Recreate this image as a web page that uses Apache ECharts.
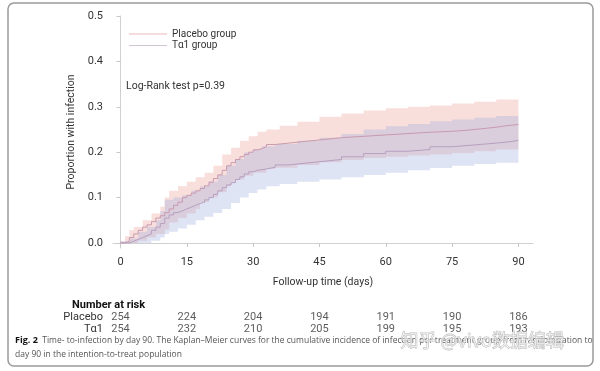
<!DOCTYPE html>
<html><head><meta charset="utf-8">
<script src="https://cdn.jsdelivr.net/npm/echarts@6/dist/echarts.min.js"></script>
<style>html,body{margin:0;padding:0;background:#fff}#c{width:600px;height:371px}</style>
</head><body><div id="c"></div>
<script>
// ---- data ----
const xTicks = [0, 15, 30, 45, 60, 75, 90];
const yTicks = [0, 0.1, 0.2, 0.3, 0.4, 0.5];

const placeboDays = [0,1,2,3,4,5,6,7,8,9,10,11,12,13,14,15,16,17,18,19,20,21,22,23,24,25,26,27,28,29,30,31,32,33,35,38,42,46,50,55,60,65,70,75,78,82,85,87,90];
const placeboVals = [0,0.004,0.012,0.02,0.028,0.035,0.04,0.047,0.055,0.06,0.067,0.075,0.083,0.09,0.1,0.105,0.11,0.115,0.12,0.126,0.134,0.142,0.15,0.16,0.17,0.177,0.184,0.19,0.195,0.2,0.205,0.208,0.212,0.217,0.22,0.224,0.228,0.232,0.235,0.238,0.241,0.244,0.246,0.248,0.252,0.255,0.258,0.261,0.261];

const ta1Days = [0,2,3,4,5,6,7,8,9,10,11,12,13,14,15,16,17,18,19,20,21,22,23,24,25,26,27,28,29,30,31,33,35,38,42,46,50,55,60,65,70,75,80,85,88,90];
const ta1Vals = [0,0.004,0.008,0.012,0.016,0.02,0.028,0.035,0.043,0.055,0.062,0.067,0.071,0.075,0.079,0.083,0.087,0.09,0.095,0.1,0.107,0.115,0.122,0.128,0.133,0.14,0.146,0.152,0.157,0.16,0.163,0.167,0.172,0.176,0.18,0.184,0.19,0.197,0.202,0.206,0.212,0.216,0.22,0.223,0.226,0.226];

const placeboUpDays = [0,1,2,3,5,7,9,10,11,13,15,17,19,21,23,25,27,29,31,33,36,40,45,50,55,60,65,70,75,80,85,90];
const placeboUpVals = [0.004,0.015,0.028,0.035,0.05,0.065,0.08,0.1,0.115,0.125,0.135,0.145,0.155,0.17,0.195,0.21,0.225,0.235,0.245,0.25,0.258,0.267,0.278,0.285,0.292,0.297,0.3,0.303,0.307,0.311,0.316,0.319];
const placeboLoDays = [0,4,6,8,10,11,13,15,17,18,20,22,24,25,26,28,30,33,35,40,45,50,55,60,65,70,75,80,85,90];
const placeboLoVals = [0,0.005,0.012,0.02,0.03,0.045,0.055,0.065,0.075,0.09,0.1,0.112,0.125,0.135,0.14,0.148,0.155,0.163,0.166,0.172,0.178,0.183,0.187,0.19,0.193,0.195,0.198,0.202,0.206,0.21];

const ta1UpDays = [0,2,4,6,8,9,10,12,14,16,18,20,22,24,26,28,30,32,35,40,45,50,55,60,65,70,75,80,85,90];
const ta1UpVals = [0.004,0.01,0.025,0.035,0.05,0.07,0.095,0.1,0.105,0.115,0.125,0.135,0.15,0.17,0.185,0.2,0.207,0.213,0.218,0.225,0.232,0.24,0.25,0.257,0.262,0.268,0.272,0.276,0.28,0.283];
const ta1LoDays = [0,7,9,10,11,13,15,17,19,21,23,25,27,29,31,33,36,40,45,50,55,60,65,70,75,80,85,90];
const ta1LoVals = [0,0.005,0.012,0.02,0.025,0.032,0.04,0.05,0.058,0.066,0.075,0.088,0.1,0.11,0.118,0.125,0.13,0.135,0.14,0.145,0.15,0.155,0.16,0.165,0.17,0.174,0.177,0.18];

const riskDays = [0, 15, 30, 45, 60, 75, 90];
const riskGroups = ['Tα1', 'Placebo'];
const placeboRisk = [254, 224, 204, 194, 191, 190, 186];
const ta1Risk = [254, 232, 210, 205, 199, 195, 193];

// ---- helpers ----
function stepPoints(days, vals, endDay) {
  const pts = [];
  for (let i = 0; i < days.length; i++) {
    const next = i < days.length - 1 ? days[i + 1] : endDay;
    pts.push([days[i], vals[i]]);
    pts.push([next, vals[i]]);
  }
  return pts;
}
function bandSeries(name, upD, upV, loD, loV, color) {
  const up = stepPoints(upD, upV, 90);
  const lo = stepPoints(loD, loV, 90).reverse();
  const all = up.concat(lo);
  return {
    type: 'custom', name: name, silent: true, clip: true,
    data: [[0, 0]],
    renderItem: function (params, api) {
      if (params.dataIndex !== 0) return null;
      return { type: 'polygon', shape: { points: all.map(p => api.coord(p)) },
               style: { fill: color } };
    },
    z: 1
  };
}
const FONT = 'Roboto';
const chart = echarts.init(document.getElementById('c'), null, { renderer: 'canvas' });
chart.setOption({
  animation: false,
  backgroundColor: '#fff',
  textStyle: { fontFamily: FONT },
  title: [
    { text: 'Log-Rank test p=0.39', left: 121, top: 76,
      textStyle: { fontSize: 10.5, fontWeight: 'normal', color: '#333', fontFamily: FONT } },
    { text: 'Number at risk', left: 67, top: 295,
      textStyle: { fontSize: 11, fontWeight: 'bold', color: '#111', fontFamily: FONT } }
  ],
  legend: {
    orient: 'vertical', left: 124, top: 24, itemWidth: 38, itemHeight: 1, itemGap: 1.5,
    icon: 'rect', textStyle: { fontSize: 10, color: '#333', lineHeight: 10, fontFamily: FONT },
    data: [{ name: 'Placebo group', itemStyle: { color: '#e9b9bb' } },
           { name: 'Tα1 group', itemStyle: { color: '#cfc3d4' } }]
  },
  grid: [
    { left: 113, right: 67, top: 16, bottom: 123 },
    { left: 113, right: 67, top: 311, bottom: 36 }
  ],
  xAxis: [
    { type: 'value', gridIndex: 0, min: -1.7, max: 93.3,
      name: 'Follow-up time (days)', nameLocation: 'middle', nameGap: 29,
      nameTextStyle: { fontSize: 10.5, color: '#333', fontFamily: FONT },
      axisLine: { lineStyle: { color: '#d0d0d0' } },
      axisTick: { customValues: xTicks, length: 4, lineStyle: { color: '#c8c8c8' } },
      axisLabel: { customValues: xTicks, fontSize: 11, color: '#333', margin: 9 },
      splitLine: { show: false } },
    { type: 'value', gridIndex: 1, min: -1.7, max: 93.3, show: false }
  ],
  yAxis: [
    { type: 'value', gridIndex: 0, min: -0.011, max: 0.5,
      name: 'Proportion with infection', nameLocation: 'middle', nameGap: 26,
      nameTextStyle: { fontSize: 10.5, color: '#333', fontFamily: FONT },
      axisLine: { show: true, lineStyle: { color: '#d0d0d0' } },
      axisTick: { show: true, customValues: yTicks, length: 4, lineStyle: { color: '#c8c8c8' } },
      axisLabel: { customValues: yTicks, fontSize: 11, color: '#333', margin: 10,
                   formatter: v => v.toFixed(1) },
      splitLine: { show: false } },
    { type: 'category', gridIndex: 1, data: riskGroups,
      axisLine: { show: false }, axisTick: { show: false },
      axisLabel: { interval: 0, hideOverlap: false, fontSize: 11, color: '#333', margin: 10 } }
  ],
  series: [
    bandSeries('Placebo CI', placeboUpDays, placeboUpVals, placeboLoDays, placeboLoVals, 'rgba(232,150,140,0.3)'),
    bandSeries('Tα1 CI', ta1UpDays, ta1UpVals, ta1LoDays, ta1LoVals, 'rgba(150,165,222,0.3)'),
    { type: 'line', name: 'Placebo group', step: 'end', showSymbol: false, z: 3,
      data: placeboDays.map((d, i) => [d, placeboVals[i]]),
      lineStyle: { width: 1, color: '#c99aae' }, itemStyle: { color: '#c99aae' } },
    { type: 'line', name: 'Tα1 group', step: 'end', showSymbol: false, z: 3,
      data: ta1Days.map((d, i) => [d, ta1Vals[i]]),
      lineStyle: { width: 1, color: '#b7a0c0' }, itemStyle: { color: '#b7a0c0' } },
    { type: 'scatter', name: 'risk placebo', xAxisIndex: 1, yAxisIndex: 1, symbolSize: 1,
      itemStyle: { color: 'rgba(0,0,0,0)' },
      data: riskDays.map((d, i) => [d, 'Placebo', placeboRisk[i]]),
      label: { show: true, position: 'inside', fontSize: 11, color: '#333', fontFamily: FONT,
               formatter: p => String(p.value[2]) } },
    { type: 'scatter', name: 'risk ta1', xAxisIndex: 1, yAxisIndex: 1, symbolSize: 1,
      itemStyle: { color: 'rgba(0,0,0,0)' },
      data: riskDays.map((d, i) => [d, 'Tα1', ta1Risk[i]]),
      label: { show: true, position: 'inside', fontSize: 11, color: '#333', fontFamily: FONT,
               formatter: p => String(p.value[2]) } }
  ],
  graphic: [
    { type: 'rect', silent: true, z: 0,
      shape: { x: 8, y: 3, width: 585, height: 363, r: 6 },
      style: { fill: 'none', stroke: '#9a9a9a', lineWidth: 1.5 } },
    { type: 'text', left: 15, top: 336, silent: true,
      style: { text: '{b|Fig. 2}  Time- to-infection by day 90. The Kaplan–Meier curves for the cumulative incidence of infection per treatment group from randomization to',
               fill: '#555', fontSize: 8.5, fontFamily: 'Open Sans',
               rich: { b: { fontWeight: 'bold', fill: '#111', fontSize: 9, fontFamily: 'Open Sans' } } } },
    { type: 'text', left: 15, top: 350, silent: true,
      style: { text: 'day 90 in the intention-to-treat population', fill: '#555', fontSize: 8.5, fontFamily: 'Open Sans' } },
    { type: 'text', left: 400, top: 331, silent: true, z: 10,
      style: { text: '知乎 @vivo数据编辑', fill: 'rgba(255,255,255,0.55)', stroke: '#b8b8b8', lineWidth: 0.8,
               fontSize: 18, fontFamily: 'Noto Sans CJK SC' } }
  ]
});
</script></body></html>
